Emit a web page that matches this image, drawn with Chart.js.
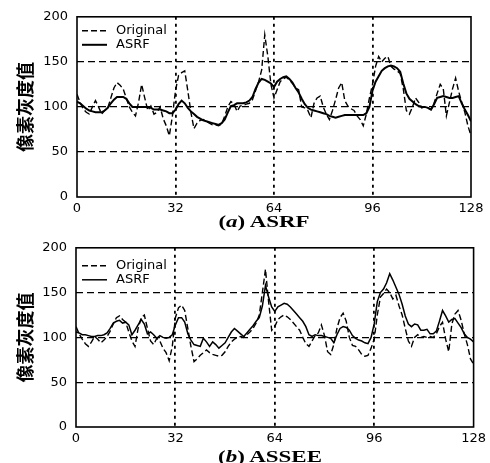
<!DOCTYPE html>
<html>
<head>
<meta charset="utf-8">
<script src="https://cdn.jsdelivr.net/npm/chart.js@4/dist/chart.umd.min.js"></script>
<style>
  html,body{margin:0;padding:0;background:#fff;}
  #wrap{position:relative;width:490px;height:463px;overflow:hidden;}
  canvas{position:absolute;left:0;}
  .sub{position:absolute;width:200px;text-align:center;font-family:"Liberation Serif","DejaVu Serif",serif;font-weight:bold;font-size:17px;line-height:20px;color:#000;white-space:nowrap;transform:scaleX(1.35);transform-origin:center;}
</style>
</head>
<body>
<div id="wrap">
  <canvas id="c1" width="490" height="232" style="top:0"></canvas>
  <canvas id="c2" width="490" height="232" style="top:231px"></canvas>
  <div class="sub" id="s1" style="left:164px;top:212px;">(<i>a</i>) ASRF</div>
  <div class="sub" id="s2" style="left:170px;top:447px;">(<i>b</i>) ASSEE</div>
</div>
<script>
// ---- data (pixel position index 0..128) ----
const xTicks = [0, 32, 64, 96, 128];
const yTicks = [0, 50, 100, 150, 200];
const yTitle = "像素灰度值";
const seriesNames = ["Original", "ASRF"];

const originalA = [114,105,98,94,92,100,107,100,92,96,99,110,121,127,124,120,110,100,94,90,105,125,110,96,101,92,94,100,87,79,68,90,118,135,138,140,118,94,76,82,85,86,84,82,80,80,79,81,90,100,106,103,95,101,102,103,104,108,118,128,141,180,156,125,110,119,128,131,133,130,126,121,119,100,99,96,88,104,110,112,100,92,86,96,108,121,127,107,101,98,96,90,86,79,92,110,125,145,156,150,154,156,145,142,140,137,120,96,92,100,110,105,99,100,99,97,104,115,125,120,90,105,120,132,117,105,94,79,68];
const asrfA = [106,104,101,98,96,95,94,94,94,96,99,104,108,111,111,111,109,104,100,100,100,100,100,100,99,97,97,97,96,95,93,93,97,103,107,104,99,95,92,89,87,85,84,83,82,81,80,82,86,94,101,102,104,104,104,105,107,111,120,127,131,130,128,126,122,128,131,133,134,131,127,121,116,109,103,99,97,96,95,94,93,92,90,89,88,89,90,91,91,91,91,91,91,91,93,100,118,128,134,140,143,145,146,145,143,139,126,115,109,106,103,101,100,100,99,97,103,110,111,112,111,110,110,111,112,104,97,91,84];

const originalB = [112,104,98,93,90,95,101,98,94,97,101,107,115,122,124,120,117,106,96,90,110,122,125,110,96,92,99,96,88,83,74,90,122,133,136,130,110,90,73,76,80,83,86,83,81,80,79,80,84,90,95,98,100,101,100,103,106,110,116,125,150,176,140,108,112,120,123,125,123,120,116,112,108,100,93,90,96,102,105,114,102,84,81,92,110,122,127,118,100,91,90,86,81,79,80,88,98,125,145,149,154,150,143,147,135,125,110,96,90,100,103,100,101,100,101,100,104,112,117,98,84,115,126,130,119,104,92,76,70];
const asseeB = [106,105,103,103,102,101,101,102,102,103,105,110,116,118,119,116,117,114,103,108,114,120,115,104,106,103,99,102,100,99,100,103,114,122,122,117,104,97,92,91,90,99,95,90,95,92,88,91,94,100,106,110,107,104,101,105,109,113,118,122,135,158,145,134,129,134,136,138,137,134,130,126,122,118,112,103,101,103,102,102,101,100,99,94,103,110,112,111,108,102,99,97,96,94,93,100,115,140,150,154,161,171,164,156,148,137,124,115,112,115,114,108,108,109,104,104,107,118,130,124,117,120,121,116,111,104,100,98,95];

const positions = originalA.map((_, i) => i);

// ---- plugins ----
const framePlugin = {
  id: 'frame',
  afterDraw(chart) {
    const a = chart.chartArea, c = chart.ctx;
    c.save();
    c.strokeStyle = '#000';
    c.lineWidth = 1.6;
    c.strokeRect(a.left, a.top, a.right - a.left, a.bottom - a.top);
    c.restore();
  }
};
const innerLegend = {
  id: 'innerLegend',
  afterDatasetsDraw(chart, args, opts) {
    const a = chart.chartArea, c = chart.ctx;
    c.save();
    c.font = '13px "DejaVu Sans", sans-serif';
    c.fillStyle = '#000';
    c.textBaseline = 'middle';
    chart.data.datasets.forEach((ds, k) => {
      const y = a.top + opts.y0 + k * opts.dy;
      c.strokeStyle = '#000';
      c.lineWidth = ds.borderWidth;
      c.setLineDash(ds.borderDash || []);
      c.beginPath();
      c.moveTo(a.left + opts.x0, y);
      c.lineTo(a.left + opts.x0 + 25, y);
      c.stroke();
      c.setLineDash([]);
      c.fillText(ds.label, a.left + opts.x0 + 34, y);
    });
    c.restore();
  }
};

function makeChart(id, orig, filt, filtWidth, pad, yWidth, leg) {
  return new Chart(document.getElementById(id), {
    type: 'line',
    data: {
      labels: positions,
      datasets: [
        { label: seriesNames[0], data: orig, borderColor: '#000', borderWidth: 1.4, borderDash: [6, 3], pointRadius: 0, fill: false, tension: 0 },
        { label: seriesNames[1], data: filt, borderColor: '#000', borderWidth: filtWidth, pointRadius: 0, fill: false, tension: 0 }
      ]
    },
    options: {
      responsive: false,
      animation: false,
      devicePixelRatio: 1,
      layout: { padding: pad },
      plugins: { legend: { display: false }, tooltip: { enabled: false }, innerLegend: leg },
      scales: {
        x: {
          type: 'linear', min: 0, max: 128,
          afterBuildTicks: s => { s.ticks = xTicks.map(v => ({ value: v })); },
          afterFit: s => { s.height = 20; },
          ticks: { color: '#000', font: { family: '"DejaVu Sans", sans-serif', size: 13 }, padding: 4, maxRotation: 0, autoSkip: false },
          grid: { color: c => (c.tick && (c.tick.value === 0 || c.tick.value === 128)) ? 'rgba(0,0,0,0)' : '#000', lineWidth: 1.8, drawTicks: false },
          border: { display: false, dash: [3, 4] }
        },
        y: {
          min: 0, max: 200,
          afterBuildTicks: s => { s.ticks = yTicks.map(v => ({ value: v })); },
          afterFit: s => { s.width = yWidth; },
          ticks: { color: '#000', font: { family: '"DejaVu Sans", sans-serif', size: 13 }, padding: 9 },
          grid: { color: c => (c.tick && (c.tick.value === 0 || c.tick.value === 200)) ? 'rgba(0,0,0,0)' : '#000', lineWidth: 1.3, drawTicks: false },
          border: { display: false, dash: [7, 4] },
          title: { display: true, text: yTitle, color: '#000', font: { family: '"Noto Sans CJK SC", sans-serif', size: 18, weight: 'bold', lineHeight: 1.2 }, padding: { top: 14, bottom: 0 } }
        }
      }
    },
    plugins: [framePlugin, innerLegend]
  });
}

makeChart('c1', originalA, asrfA, 2, { left: 0, top: 15, right: 19, bottom: 15 }, 77, { x0: 5, y0: 14, dy: 14 });
makeChart('c2', originalB, asseeB, 1.5, { left: 0, top: 14, right: 14, bottom: 16 }, 76, { x0: 6, y0: 18, dy: 14 });
</script>
</body>
</html>
